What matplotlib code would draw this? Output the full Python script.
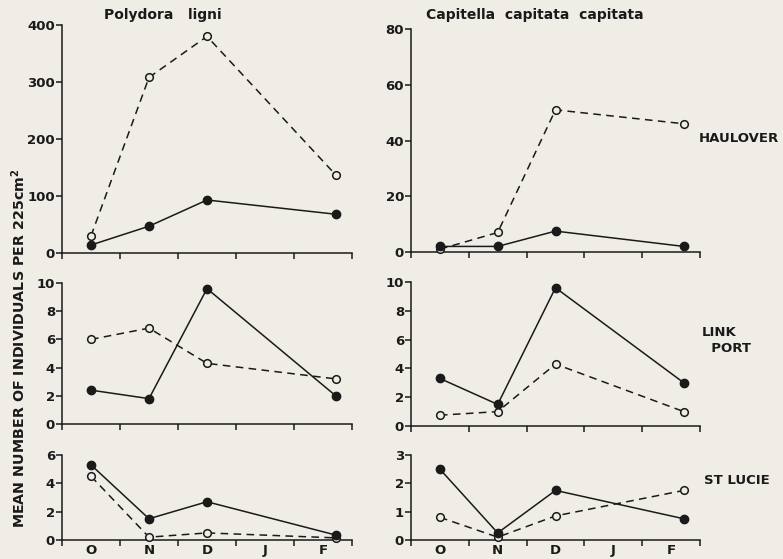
import matplotlib.pyplot as plt

months = ["O", "N", "D", "J", "F"]
# sampling positions (in month units, O=0); last sample was late February
sample_x = [0, 1, 2, 4.22]

species = ["Polydora   ligni", "Capitella  capitata  capitata"]
sites = ["HAULOVER", "LINK\n  PORT", "ST LUCIE"]

# filled circles / solid line
polydora_solid = {
    "HAULOVER": [14, 47, 93, 68],
    "LINK": [2.4, 1.8, 9.6, 2.0],
    "STLUCIE": [5.3, 1.5, 2.7, 0.35],
}
# open circles / dashed line
polydora_open = {
    "HAULOVER": [30, 308, 380, 137],
    "LINK": [6.0, 6.8, 4.3, 3.2],
    "STLUCIE": [4.5, 0.2, 0.5, 0.15],
}
capitella_solid = {
    "HAULOVER": [2, 2, 7.5, 2],
    "LINK": [3.3, 1.5, 9.6, 3.0],
    "STLUCIE": [2.5, 0.25, 1.75, 0.75],
}
capitella_open = {
    "HAULOVER": [1, 7, 51, 46],
    "LINK": [0.75, 1.0, 4.3, 1.0],
    "STLUCIE": [0.8, 0.1, 0.85, 1.75],
}

ylims = {
    ("P", "HAULOVER"): (400, [0, 100, 200, 300, 400]),
    ("C", "HAULOVER"): (80, [0, 20, 40, 60, 80]),
    ("P", "LINK"): (10, [0, 2, 4, 6, 8, 10]),
    ("C", "LINK"): (10, [0, 2, 4, 6, 8, 10]),
    ("P", "STLUCIE"): (6, [0, 2, 4, 6]),
    ("C", "STLUCIE"): (3, [0, 1, 2, 3]),
}

bg = "#f0ede6"
ink = "#1a1a1a"
plt.rcParams["font.family"] = "DejaVu Sans"
plt.rcParams["font.weight"] = "bold"

fig = plt.figure(figsize=(7.83, 5.59), dpi=100, facecolor=bg)

# axes boxes in pixels: left, top, right, bottom
boxes = {
    ("P", "HAULOVER"): (62, 25, 352, 253),
    ("C", "HAULOVER"): (411, 29, 700, 252),
    ("P", "LINK"): (62, 283, 352, 424),
    ("C", "LINK"): (411, 282, 700, 426),
    ("P", "STLUCIE"): (62, 455, 352, 540),
    ("C", "STLUCIE"): (411, 455, 700, 540),
}

W, H = 783, 559
for (sp, site), (l, t, r, b) in boxes.items():
    ax = fig.add_axes([l / W, 1 - b / H, (r - l) / W, (b - t) / H])
    ax.set_facecolor("none")
    if sp == "P":
        solid, opened = polydora_solid[site], polydora_open[site]
    else:
        solid, opened = capitella_solid[site], capitella_open[site]
    ax.plot(sample_x, opened, ls=(0, (5, 3.5)), color=ink, lw=1.1,
            marker="o", ms=5.5, mfc=bg, mec=ink, mew=1.1, zorder=3,
            clip_on=False)
    ax.plot(sample_x, solid, ls="-", color=ink, lw=1.1,
            marker="o", ms=6, mfc=ink, mec=ink, zorder=4, clip_on=False)
    top, ticks = ylims[(sp, site)]
    ax.set_ylim(0, top)
    ax.set_yticks(ticks)
    ax.set_xlim(-0.5, 4.5)
    ax.set_xticks([-0.5, 0.5, 1.5, 2.5, 3.5, 4.5])
    ax.set_xticklabels([])
    ax.tick_params(axis="x", which="major", direction="out", length=4, width=1.1, color=ink)
    ax.tick_params(axis="y", direction="out", length=4, width=1.1, color=ink,
                   labelsize=9.5, pad=1, labelcolor=ink)
    for s in ["top", "right"]:
        ax.spines[s].set_visible(False)
    for s in ["left", "bottom"]:
        ax.spines[s].set_color(ink)
        ax.spines[s].set_linewidth(1.1)
    if site == "STLUCIE":
        ax.set_xticks(range(len(months)), minor=True)
        ax.set_xticklabels(months, minor=True, fontsize=9.5, color=ink)
        ax.tick_params(axis="x", which="minor", length=0, pad=3)

fig.text(163 / W, 1 - 15 / H, species[0], ha="center", va="center",
         fontsize=10, color=ink)
fig.text(535 / W, 1 - 15 / H, species[1], ha="center", va="center",
         fontsize=10, color=ink)

fig.text(699 / W, 1 - 139 / H, sites[0], ha="left", va="center",
         fontsize=9.5, color=ink)
fig.text(702 / W, 1 - 341 / H, sites[1], ha="left", va="center",
         fontsize=9.5, color=ink, linespacing=1.3)
fig.text(704 / W, 1 - 480 / H, sites[2], ha="left", va="center",
         fontsize=9.5, color=ink)

fig.text(19 / W, 1 - 348 / H, "MEAN NUMBER OF INDIVIDUALS PER 225cm$^\\mathbf{2}$",
         rotation=90, ha="center", va="center", fontsize=10.3, color=ink)

fig.savefig("out.png", dpi=100, facecolor=bg)
